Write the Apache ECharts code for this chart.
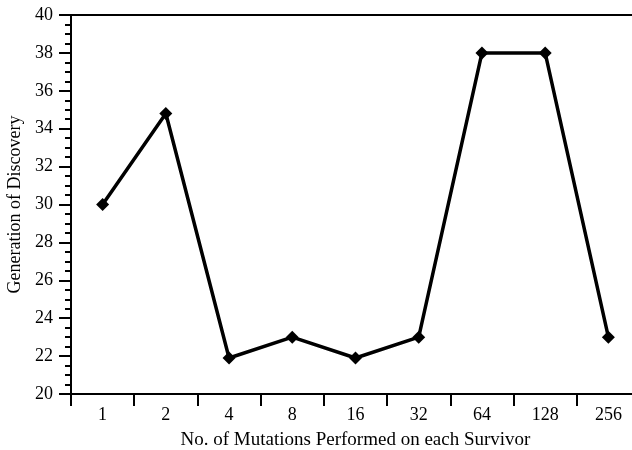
<!DOCTYPE html>
<html>
<head>
<meta charset="utf-8">
<script src="https://cdn.jsdelivr.net/npm/echarts@6/dist/echarts.min.js"></script>
<style>html,body{margin:0;padding:0;background:#fff}#c{width:632px;height:450px}</style>
</head>
<body>
<div id="c"></div>
<script>
const categories = ['1','2','4','8','16','32','64','128','256'];
const generation = [30, 34.8, 21.9, 23, 21.9, 23, 38, 38, 23];
const yTicks = {min: 20, max: 40, interval: 2};
const xName = 'No. of Mutations Performed on each Survivor';
const yName = 'Generation of Discovery';

const font = 'Liberation Serif';
const chart = echarts.init(document.getElementById('c'), null, {renderer: 'canvas'});
chart.setOption({
  animation: false,
  backgroundColor: '#fff',
  grid: {left: 71, top: 15, bottom: 56, right: -8, containLabel: false, outerBoundsMode: 'none'},
  xAxis: [{
    type: 'category',
    data: categories,
    boundaryGap: true,
    position: 'bottom',
    name: xName,
    nameLocation: 'middle',
    nameGap: 37,
    nameTextStyle: {fontFamily: font, fontSize: 19, color: '#000'},
    axisLine: {lineStyle: {color: '#000', width: 2}},
    axisTick: {show: true, length: 12, inside: false, alignWithLabel: false, lineStyle: {color: '#000', width: 2}},
    axisLabel: {fontFamily: font, fontSize: 18, color: '#000', margin: 12},
    splitLine: {show: false}
  }, {
    type: 'category',
    data: categories,
    position: 'top',
    axisLine: {lineStyle: {color: '#000', width: 2}},
    axisTick: {show: false},
    axisLabel: {show: false},
    splitLine: {show: false}
  }],
  yAxis: {
    type: 'value',
    min: yTicks.min,
    max: yTicks.max,
    interval: yTicks.interval,
    name: yName,
    nameLocation: 'middle',
    nameGap: 47,
    nameTextStyle: {fontFamily: font, fontSize: 18, color: '#000'},
    axisLine: {show: true, lineStyle: {color: '#000', width: 2}},
    axisTick: {show: true, length: 12, lineStyle: {color: '#000', width: 2}},
    minorTick: {show: true, splitNumber: 4, length: 6, lineStyle: {color: '#000', width: 2}},
    axisLabel: {fontFamily: font, fontSize: 18, color: '#000', margin: 18},
    splitLine: {show: false}
  },
  series: [{
    type: 'line',
    data: generation,
    symbol: 'diamond',
    symbolSize: 13,
    lineStyle: {color: '#000', width: 3.5},
    itemStyle: {color: '#000'}
  }]
});
</script>
</body>
</html>
